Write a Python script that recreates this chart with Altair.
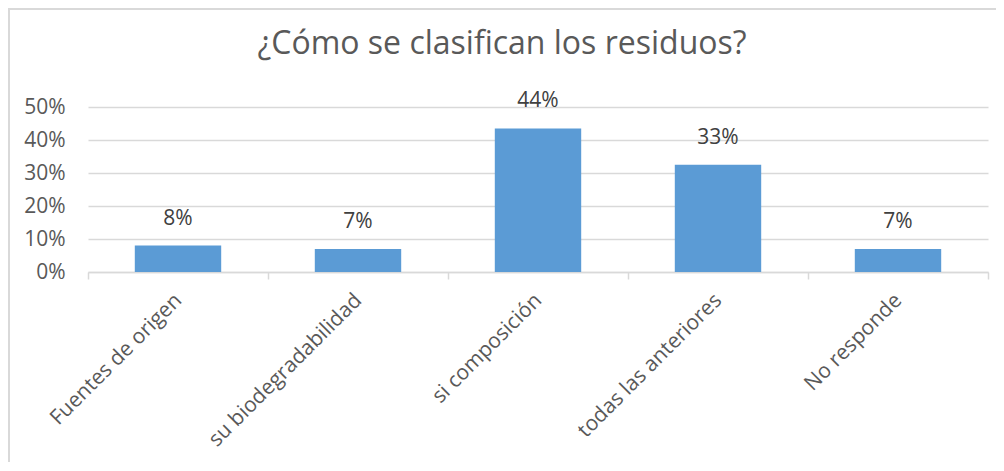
import altair as alt
import pandas as pd

categorias = ["Fuentes de origen", "su biodegradabilidad", "si composición",
              "todas las anteriores", "No responde"]
valores = [0.08, 0.07, 0.435, 0.325, 0.07]
etiquetas = ["8%", "7%", "44%", "33%", "7%"]

df = pd.DataFrame({"cat": categorias, "val": valores, "lab": etiquetas})

FONT = "Open Sans"

x_enc = alt.X("cat:N", sort=categorias, title=None,
              scale=alt.Scale(paddingInner=0, paddingOuter=0),
              axis=alt.Axis(labelAngle=-45, labelAlign="right", labelBaseline="middle",
                            labelFontSize=21, labelColor="#595959", labelFont=FONT,
                            labelPadding=18, labelLimit=0, tickBand="extent", tickSize=7,
                            tickColor="#d9d9d9", tickWidth=1.5,
                            domainColor="#d9d9d9", domainWidth=1.5, grid=False))
y_enc = alt.Y("val:Q", title=None,
              scale=alt.Scale(domain=[0, 0.5], nice=False),
              axis=alt.Axis(format=".0%", values=[0, 0.1, 0.2, 0.3, 0.4, 0.5],
                            labelFontSize=21, labelColor="#595959", labelFont=FONT,
                            labelPadding=23, ticks=False, domain=False,
                            labelOverlap=False,
                            gridColor="#d9d9d9", gridWidth=1.5))

bars = alt.Chart(df).mark_bar(color="#5B9BD5", width=alt.RelativeBandSize(0.48)).encode(
    x=x_enc, y=y_enc)
text = alt.Chart(df).mark_text(fontSize=21, font=FONT, color="#404040",
                               baseline="bottom", dy=-17).encode(
    x=x_enc, y=y_enc, text="lab:N")

border = alt.Chart(alt.Data(values=[{}])).mark_rect(
    fill=None, stroke="#d9d9d9", strokeWidth=2).encode(
    x=alt.value(-79), x2=alt.value(1100), y=alt.value(-98), y2=alt.value(600))

chart = alt.layer(border, bars, text).properties(
    width=900, height=165,
    title=alt.TitleParams("¿Cómo se clasifican los residuos?", fontSize=32, font=FONT,
                          color="#595959", fontWeight="normal", anchor="middle",
                          baseline="alphabetic", offset=0, dy=78, dx=-36),
    autosize=alt.AutoSizeParams(type="none"),
    padding={"left": 80, "top": 99, "right": 8, "bottom": 190},
).configure(background="white").configure_view(stroke=None)

chart.save("out.html", embed_options={"renderer": "svg", "actions": False})
